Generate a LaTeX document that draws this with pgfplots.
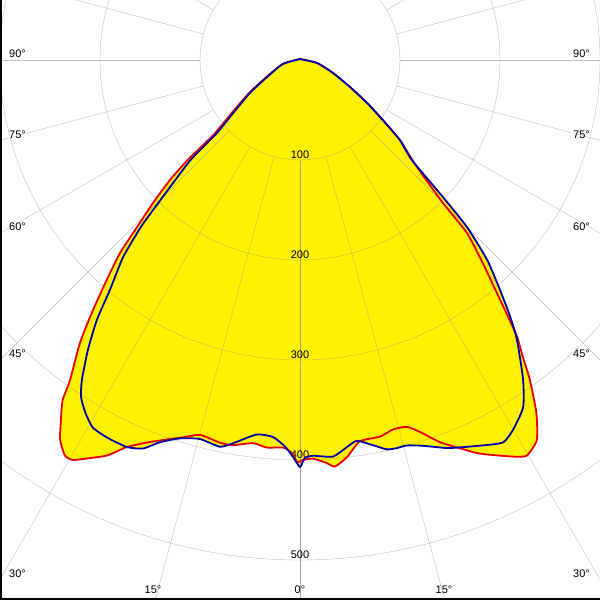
\documentclass[border=0pt]{standalone}
\usepackage{fontspec}
\setmainfont{Liberation Sans}
\usepackage{pgfplots}
\pgfplotsset{compat=1.18}
\usepackage{pgfplotstable}

% luminous intensity (cd) against gamma angle (deg), 0 = straight down, negative = left
\pgfplotstableread{
angle cd
-180 1
-77 18
-63 38
-57 61
-52 88
-49.2 113
-48.6 137
-48.3 152
-47.3 177
-45.8 205
-44.3 233
-43.0 264
-41.3 293
-39.6 325
-37.9 358
-35.7 394
-34.9 415
-33.6 432
-32.3 449
-30.75 460
-29.6 460
-27.8 450
-26.0 440
-24.1 424
-21.8 412
-19.3 402
-17.2 395
-14.9 388
-11.8 391
-9.9 391
-7.0 386
-4.9 389
-2.5 388
-1.2 393
-0.4 402
0.4 400
1.9 399
3.8 404
4.9 408
6.75 400
8.9 386
12.0 385
14.1 381
16.2 382
17.9 391
20.1 407
22.4 420
24.6 433
28.2 450
29.8 456
31.9 448
33.8 425
35.7 394
36.9 371
38.1 352
39.0 331
40.2 305
42.0 273
44.0 240
45.0 202
47.6 158
51.3 128
54.1 102
57.3 80
61.6 57
68.5 35.5
80 17.3
180 1
}\redcurve

\pgfplotstableread{
angle cd
-180 1
-77 17.5
-62.7 37
-56.6 60
-51.6 85
-48.7 110.5
-48.0 134.5
-47.5 150
-45.9 177
-44.6 205
-43.6 231
-41.9 265
-39.6 298
-38.0 330
-36.2 359
-34.3 387
-33.0 402
-31.3 413
-29.4 422
-27.05 424
-24.1 424
-22.0 419
-20.1 407
-17.6 397
-14.8 392
-11.7 395
-9.9 389
-6.6 377
-4.1 378
-2.2 387
-1.0 397
0 407
0.7 398
1.9 396
4.75 398
6.9 390
8.5 385
10.7 392
12.6 399
14.0 400
15.5 400
17.7 405
20.75 415
22.8 420
25.9 428
28.0 433
29.9 427
32.7 413
34.9 390
37.8 354
39.3 332
41.0 305
43.1 274
45.0 236
46.2 198
48.2 150
51.3 128
54.1 102
57.3 80
61.6 57
68.5 35.5
80 17.3
180 1
}\bluecurve

\definecolor{curvered}{RGB}{235,0,0}
\definecolor{curveblue}{RGB}{0,0,170}
\definecolor{gridgray}{RGB}{150,145,150}

\pgfplotsset{
  /pgfplots/table/polar/.style={
    /pgfplots/table/x expr={\thisrow{cd}*sin(\thisrow{angle})},
    /pgfplots/table/y expr={-\thisrow{cd}*cos(\thisrow{angle})}},
}

\begin{document}
\begin{tikzpicture}
\begin{axis}[
  width=600pt, height=600pt, scale only axis,
  xmin=-300, xmax=300, ymin=-540, ymax=60,
  ticks=none, axis line style={draw=none},
  font=\fontsize{11}{13}\selectfont,
]
% yellow area = union of both planes
\addplot[fill=yellow, draw=none, smooth, tension=0.35] table[polar] {\redcurve} -- cycle;
\addplot[fill=yellow, draw=none, smooth, tension=0.35] table[polar] {\bluecurve} -- cycle;

% polar grid
\pgfplotsinvokeforeach{0,15,...,180}{
  \draw[gridgray, opacity=0.6] (axis cs:{100*sin(#1)},{-100*cos(#1)}) -- (axis cs:{1000*sin(#1)},{-1000*cos(#1)});
  \draw[gridgray, opacity=0.6] (axis cs:{-100*sin(#1)},{-100*cos(#1)}) -- (axis cs:{-1000*sin(#1)},{-1000*cos(#1)});
}
\pgfplotsinvokeforeach{100,200,...,500}{
  \draw[gridgray, opacity=0.6] (axis cs:0,0) circle[radius=#1];
  \node[anchor=south, inner sep=1.5pt] at (axis cs:0,-#1) {#1};
}

% angle labels at the frame
\node[anchor=south west, inner xsep=1pt, inner ysep=2pt] at (axis cs:-292,0) {90°};
\node[anchor=south west, inner xsep=1pt, inner ysep=2pt] at (axis cs:-292,-80.4) {75°};
\node[anchor=south west, inner xsep=1pt, inner ysep=2pt] at (axis cs:-292,-173.2) {60°};
\node[anchor=south west, inner xsep=1pt, inner ysep=2pt] at (axis cs:-292,-300) {45°};
\node[anchor=south west, inner xsep=1pt, inner ysep=2pt] at (axis cs:-292,-519.6) {30°};
\node[anchor=south east, inner xsep=1pt, inner ysep=2pt] at (axis cs:291,0) {90°};
\node[anchor=south east, inner xsep=1pt, inner ysep=2pt] at (axis cs:291,-80.4) {75°};
\node[anchor=south east, inner xsep=1pt, inner ysep=2pt] at (axis cs:291,-173.2) {60°};
\node[anchor=south east, inner xsep=1pt, inner ysep=2pt] at (axis cs:291,-300) {45°};
\node[anchor=south east, inner xsep=1pt, inner ysep=2pt] at (axis cs:291,-519.6) {30°};
\node[anchor=south, inner sep=1pt] at (axis cs:-147,-535) {15°};
\node[anchor=south, inner sep=1pt] at (axis cs:0,-535) {0°};
\node[anchor=south, inner sep=1pt] at (axis cs:144,-535) {15°};

% measured curves
\addplot[curvered, line width=1.8pt, smooth, tension=0.35] table[polar] {\redcurve};
\addplot[curveblue, line width=1.8pt, smooth, tension=0.35] table[polar] {\bluecurve};

% frame on the left and bottom
\draw[black, line width=4pt] (rel axis cs:0,1) -- (rel axis cs:0,0) -- (rel axis cs:1,0);
\end{axis}
\end{tikzpicture}
\end{document}
